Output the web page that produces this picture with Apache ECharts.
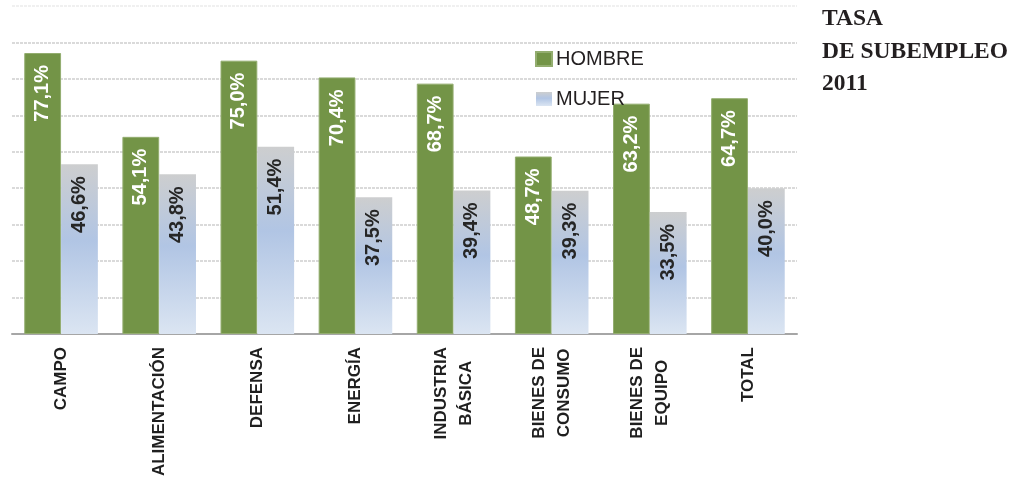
<!DOCTYPE html>
<html>
<head>
<meta charset="utf-8">
<script src="https://cdn.jsdelivr.net/npm/echarts@6/dist/echarts.min.js"></script>
<style>
  html, body { margin: 0; padding: 0; background: #ffffff; }
  #chart { width: 1012px; height: 485px; }
</style>
</head>
<body>
<div id="chart"></div>
<script>
// Tasa de subempleo 2011 por sector (%)
const categories = ['CAMPO', 'ALIMENTACIÓN', 'DEFENSA', 'ENERGÍA', 'INDUSTRIA\nBÁSICA', 'BIENES DE\nCONSUMO', 'BIENES DE\nEQUIPO', 'TOTAL'];
const hombre = [77.1, 54.1, 75.0, 70.4, 68.7, 48.7, 63.2, 64.7];
const mujer = [46.6, 43.8, 51.4, 37.5, 39.4, 39.3, 33.5, 40.0];
const seriesNames = ['HOMBRE', 'MUJER'];
const titleLines = ['TASA', 'DE SUBEMPLEO', '2011'];

const fmtPct = v => v.toFixed(1).replace('.', ',') + '%';

const mujerFill = {
  type: 'linear', x: 0, y: 0, x2: 0, y2: 1,
  colorStops: [
    { offset: 0, color: '#cdcecf' },
    { offset: 0.45, color: '#b1c5e4' },
    { offset: 1, color: '#dbe5f2' }
  ]
};

const valueLabel = (color) => ({
  show: true,
  position: 'insideTop',
  distance: 12,
  rotate: 90,
  align: 'right',
  verticalAlign: 'middle',
  color: color,
  fontFamily: '"Liberation Sans", Arial, sans-serif',
  fontWeight: 'bold',
  fontSize: 20,
  formatter: p => fmtPct(p.value)
});

const chart = echarts.init(document.getElementById('chart'), null, { renderer: 'canvas' });

chart.setOption({
  animation: false,
  backgroundColor: '#ffffff',
  title: {
    text: titleLines.join('\n'),
    left: 822,
    top: 3,
    padding: 0,
    textStyle: {
      fontFamily: '"Liberation Serif", serif',
      fontWeight: 'bold',
      fontSize: 23.5,
      lineHeight: 32.5,
      color: '#231f20'
    }
  },
  legend: {
    orient: 'vertical',
    left: 535,
    top: 49,
    padding: 0,
    itemWidth: 16,
    itemHeight: 14,
    itemGap: 20,
    icon: 'rect',
    textStyle: {
      fontFamily: '"Liberation Sans", Arial, sans-serif',
      fontSize: 20,
      lineHeight: 20,
      color: '#231f20',
      padding: [0, 0, 0, -1]
    },
    data: seriesNames
  },
  grid: { left: 12, top: 6, width: 785, height: 328 },
  xAxis: {
    type: 'category',
    data: categories,
    axisLine: { lineStyle: { color: '#a6a6a6', width: 2 } },
    axisTick: { length: 5, lineStyle: { color: '#a6a6a6', width: 2 } },
    axisLabel: {
      rotate: 90,
      margin: 13,
      interval: 0,
      formatter: v => v.split('\n').map(l => '{c|' + l + '}').join('\n'),
      rich: {
        c: {
          align: 'center',
          fontFamily: '"Liberation Sans", Arial, sans-serif',
          fontWeight: 'bold',
          fontSize: 17,
          lineHeight: 25,
          color: '#1f1f1f'
        }
      }
    }
  },
  yAxis: {
    type: 'value',
    min: 0,
    max: 90,
    interval: 10,
    axisLine: { show: false },
    axisTick: { show: false },
    axisLabel: { show: false },
    splitLine: {
      lineStyle: {
        color: ['#dadada', '#dadada', '#dadada', '#dadada', '#dadada', '#dadada', '#dadada', '#dadada', '#dadada', '#f0f0f0'],
        width: 2,
        type: [3, 1]
      }
    }
  },
  series: [
    {
      name: seriesNames[0],
      type: 'bar',
      data: hombre,
      barGap: '0%',
      barCategoryGap: '25%',
      itemStyle: { color: '#739447', borderColor: '#93ad6f', borderWidth: 1 },
      label: valueLabel('#ffffff')
    },
    {
      name: seriesNames[1],
      type: 'bar',
      data: mujer,
      barGap: '0%',
      barCategoryGap: '25%',
      itemStyle: { color: mujerFill },
      label: valueLabel('#262626')
    }
  ]
});
</script>
</body>
</html>
